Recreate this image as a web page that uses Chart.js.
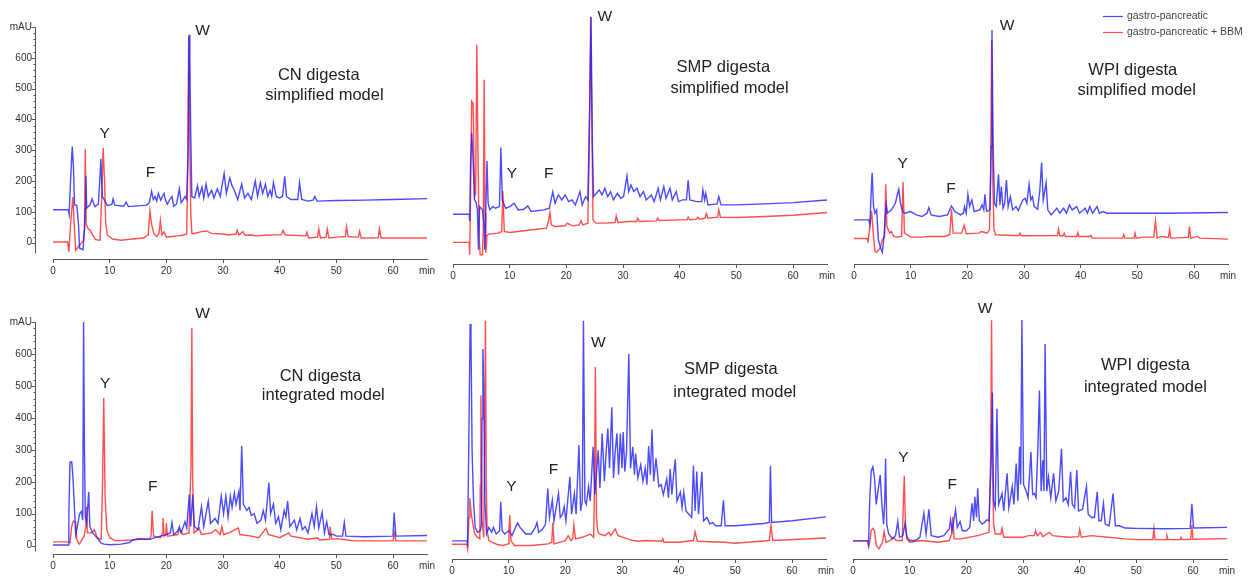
<!DOCTYPE html>
<html><head><meta charset="utf-8">
<script src="https://cdn.jsdelivr.net/npm/chart.js@4.4.1/dist/chart.umd.min.js"></script>
<style>
html,body{margin:0;padding:0;background:#fff;}
#wrap{position:relative;width:1258px;height:585px;overflow:hidden;background:#fff;}
.p{position:absolute;}
canvas{display:block;}
</style></head><body><div id="wrap"></div>
<script>
// ---- axis values ----
const xTickValues = [0, 10, 20, 30, 40, 50, 60];
const xEnd = 66;
const yLabelValues = [0, 100, 200, 300, 400, 500, 600];
const yTop = 700;
const seriesNames = ['gastro-pancreatic', 'gastro-pancreatic + BBM'];

// ---- traces: [time(min), mAU, time, mAU, ...] ----
const cnSimpBlue = [0,107, 2.7,107, 2.85,92, 3.1,200, 3.4,312, 3.6,250, 3.8,122, 4.2,122, 4.5,60, 4.7,-18, 5.3,-23, 5.55,40, 5.7,110, 5.8,217, 5.95,112, 6.5,122, 6.9,142, 7.4,117, 8.0,125, 8.25,200, 8.45,272, 8.7,150, 9.1,137, 9.6,120, 10.4,125, 10.6,142, 10.9,122, 12.5,118, 12.9,132, 13.3,117, 16.5,122, 17.0,130, 17.4,167, 17.7,140, 18.0,150, 18.3,135, 18.6,160, 19.0,138, 19.3,150, 19.6,160, 19.9,135, 20.2,125, 20.6,140, 21.0,150, 21.3,118, 21.8,125, 22.3,175, 22.6,130, 23.0,140, 23.3,150, 23.6,140, 23.85,300, 24.0,675, 24.15,600, 24.3,360, 24.5,150, 25.0,145, 25.5,185, 25.8,150, 26.3,180, 26.6,145, 27.0,190, 27.4,150, 28.0,170, 28.4,145, 29.0,175, 29.5,150, 30.2,225, 30.6,160, 31.2,210, 31.6,185, 32.0,170, 32.6,140, 33.3,190, 33.8,145, 34.4,160, 35.0,140, 35.7,200, 36.1,150, 36.6,195, 37.0,160, 37.5,190, 37.9,150, 38.3,170, 38.6,150, 38.9,195, 39.4,150, 40.0,145, 40.5,150, 40.9,215, 41.2,150, 42.0,140, 43.2,140, 43.5,195, 43.9,140, 45.0,135, 45.9,138, 46.2,150, 46.6,135, 50,137, 55,138, 60,140, 66,143];
const cnSimpRed = [0,2, 2.6,2, 2.8,-30, 3.1,60, 3.5,148, 3.75,60, 4.0,-25, 4.6,-10, 5.3,5, 5.55,40, 5.7,304, 5.85,60, 6.2,45, 6.6,40, 7.0,25, 7.5,10, 8.3,8, 8.6,150, 8.85,307, 9.1,200, 9.3,60, 9.6,25, 10.5,12, 12,8, 14,12, 16,15, 16.8,25, 17.1,102, 17.4,60, 17.8,30, 18.3,20, 18.7,30, 18.95,72, 19.2,25, 19.6,35, 20.0,18, 21,20, 22,22, 23,25, 23.6,28, 23.8,280, 23.95,670, 24.1,400, 24.3,100, 24.5,30, 25,30, 26,35, 27,38, 28,30, 30,28, 31,25, 32.3,28, 32.5,40, 32.8,25, 33.5,36, 33.9,24, 35,25, 36,22, 38,25, 40.3,26, 40.6,40, 41,25, 44.6,22, 44.8,34, 45.1,15, 46.7,18, 46.9,45, 47.2,15, 48.2,18, 48.4,44, 48.7,15, 50,18, 51.6,20, 51.8,52, 52.1,20, 53.9,18, 54.1,37, 54.4,15, 57.4,16, 57.6,45, 57.9,15, 62,15, 66,15];

const smpSimpBlue = [0,97, 2.85,97, 2.95,77, 3.1,250, 3.3,342, 3.5,280, 3.8,142, 4.1,130, 4.3,110, 4.5,-10, 4.7,120, 5.2,110, 5.5,60, 5.6,-10, 5.8,120, 6.0,257, 6.2,130, 6.5,110, 7.0,120, 7.5,115, 8.2,120, 8.45,298, 8.7,140, 9.3,115, 10.0,120, 10.8,130, 11.5,110, 12.5,112, 13.2,122, 13.8,105, 16,110, 17.0,115, 17.6,164, 18.0,130, 18.6,155, 19.2,140, 19.8,155, 20.4,135, 21.0,140, 21.6,125, 22.4,165, 22.8,125, 23.4,150, 23.8,140, 24.1,400, 24.35,692, 24.6,300, 24.8,150, 25.3,160, 25.8,170, 26.3,155, 26.8,175, 27.3,150, 27.8,165, 28.3,140, 29.0,160, 29.6,145, 30.1,150, 30.7,212, 31.0,165, 31.4,185, 31.9,165, 32.5,175, 33.0,150, 33.6,165, 34.1,140, 35.0,155, 35.5,135, 36.2,175, 36.6,140, 37.2,180, 37.6,145, 38.3,175, 38.7,140, 39.4,165, 39.8,135, 40.5,140, 41.2,140, 41.5,199, 41.8,140, 43,135, 43.9,135, 44.1,170, 44.4,140, 44.6,160, 45.0,125, 46.6,128, 46.9,150, 47.3,125, 50,125, 55,128, 60,132, 66,140];
const smpSimpRed = [0,12, 2.85,12, 2.95,-25, 3.1,150, 3.3,437, 3.55,430, 3.8,150, 4.0,160, 4.2,607, 4.4,300, 4.6,30, 4.8,-25, 5.2,-25, 5.35,60, 5.5,502, 5.65,100, 5.8,-20, 6.0,32, 6.3,37, 8.0,40, 8.6,45, 8.8,167, 9.05,45, 10,42, 14,50, 16.5,55, 16.9,80, 17.1,102, 17.35,65, 18,60, 19.8,62, 20.2,70, 21,62, 22.3,65, 22.6,77, 22.9,65, 23.8,70, 24.05,300, 24.3,690, 24.5,400, 24.7,80, 25.2,70, 27,70, 28.6,72, 28.8,92, 29.1,72, 31,75, 32.4,75, 32.6,85, 32.9,75, 35.9,77, 36.1,85, 36.4,78, 40,80, 41.3,80, 41.5,88, 41.8,80, 43.0,82, 43.2,88, 43.5,82, 44.5,85, 44.7,99, 45.0,85, 46.7,88, 46.9,110, 47.2,88, 50,87, 55,90, 60,94, 66,102];

const wpiSimpBlue = [0,80, 2.6,80, 2.8,65, 3.0,150, 3.2,222, 3.45,120, 3.7,100, 4.0,110, 4.3,20, 4.7,-5, 5.0,-18, 5.3,30, 5.55,100, 5.7,127, 5.9,100, 6.6,110, 7.3,130, 7.7,160, 7.9,172, 8.2,130, 8.6,105, 9,100, 10,105, 11,95, 12,90, 12.9,100, 13.2,117, 13.6,95, 15,90, 16.5,95, 17.2,122, 17.8,105, 18.8,95, 19.3,100, 19.5,120, 19.8,100, 20.1,157, 20.4,120, 20.8,140, 21.2,105, 22.2,110, 22.6,125, 22.9,110, 23.1,157, 23.4,105, 24.0,110, 24.2,300, 24.35,652, 24.55,300, 24.8,130, 25.1,120, 25.5,217, 25.75,125, 26.0,180, 26.3,115, 26.6,130, 26.9,200, 27.2,120, 27.6,150, 28.0,110, 28.6,120, 29.0,108, 29.4,125, 29.8,140, 30.2,145, 30.5,130, 30.9,187, 31.2,140, 31.5,150, 31.8,120, 32.4,112, 32.8,170, 33.1,252, 33.4,140, 33.9,192, 34.2,110, 34.8,95, 35.8,115, 36.3,100, 37.0,115, 37.5,100, 38.0,125, 38.5,110, 39.3,120, 39.8,100, 40.8,115, 41.2,100, 41.6,120, 42.1,100, 42.9,120, 43.3,100, 44,105, 44.6,100, 50,100, 55,100, 66,102];
const wpiSimpRed = [0,24, 2.3,24, 2.5,15, 2.8,60, 3.1,107, 3.4,40, 3.7,-15, 4.0,-18, 4.6,-5, 5.0,20, 5.4,30, 5.6,187, 5.8,60, 6.3,40, 6.6,45, 7.0,30, 7.6,28, 8.4,30, 8.65,194, 8.9,40, 10,28, 12,28, 13,30, 16,30, 16.9,35, 17.2,112, 17.5,40, 19.0,40, 19.45,64, 19.8,38, 22,40, 22.5,45, 23.5,40, 23.9,50, 24.1,200, 24.3,622, 24.5,200, 24.7,50, 25,35, 28,33, 29.1,33, 29.3,40, 29.5,32, 35.9,33, 36.1,52, 36.3,32, 36.9,32, 37.1,40, 37.3,30, 39.3,30, 39.5,42, 39.7,30, 41.6,30, 41.8,33, 42.0,25, 47.4,25, 47.6,35, 47.8,25, 49.4,25, 49.6,40, 49.8,25, 51,28, 52.9,28, 53.2,77, 53.5,25, 54.3,30, 55.5,27, 55.7,50, 55.9,25, 59.0,27, 59.2,60, 59.4,25, 60.6,30, 61,25, 66,22];

const cnIntBlue = [0,2, 2.7,2, 2.8,100, 3.0,262, 3.3,262, 3.5,220, 3.7,150, 4.0,35, 4.3,60, 4.7,100, 5.0,107, 5.25,80, 5.4,700, 5.55,300, 5.7,90, 5.95,70, 6.3,169, 6.5,60, 7.0,40, 7.5,30, 8.0,20, 8.5,8, 9,5, 10,3, 12,5, 13.5,10, 14,17, 15,20, 17,20, 19,30, 20,35, 20.7,40, 21.0,72, 21.3,35, 22.0,45, 22.3,60, 22.6,40, 23.3,75, 23.6,55, 24.05,160, 24.3,60, 24.65,160, 24.95,60, 25.6,50, 26.2,122, 26.6,60, 27.4,139, 27.8,70, 28.6,85, 29.1,70, 29.7,155, 30.1,100, 30.5,155, 30.9,90, 31.3,155, 31.6,120, 32.0,165, 32.3,130, 32.8,170, 33.0,110, 33.3,312, 33.6,130, 34.2,110, 34.6,120, 35.0,95, 35.5,100, 36.0,70, 36.7,80, 37.1,110, 37.5,80, 38.1,197, 38.4,100, 38.9,130, 39.3,70, 39.8,90, 40.2,50, 40.8,110, 41.1,90, 41.4,140, 41.8,60, 42.6,80, 43.0,50, 43.6,85, 44.0,50, 44.5,60, 45,40, 45.7,100, 46.1,60, 46.5,122, 46.9,55, 47.5,105, 47.9,40, 48.3,75, 48.7,35, 49.5,35, 50,30, 51.1,30, 51.4,72, 51.7,30, 55,28, 60,30, 60.2,104, 60.5,30, 66,32];
const cnIntRed = [0,12, 2.8,12, 3.0,10, 3.3,60, 3.6,77, 4.0,75, 4.2,20, 4.6,5, 5.0,15, 5.5,30, 5.8,60, 5.9,122, 6.05,40, 6.8,40, 7.3,50, 7.8,25, 8.5,20, 8.75,200, 8.95,462, 9.2,150, 9.5,50, 10,25, 11,15, 14,18, 15,22, 17,20, 17.3,30, 17.5,109, 17.75,30, 19,25, 19.3,40, 19.4,87, 19.6,30, 19.9,35, 20.0,70, 20.2,30, 22,35, 22.3,50, 23,35, 24,40, 24.35,250, 24.5,682, 24.65,200, 24.9,40, 25.8,55, 26.2,35, 28,40, 28.7,50, 29.5,35, 29.8,60, 30.1,35, 31,40, 32.7,55, 33,35, 35,30, 36.3,25, 37.6,54, 38,35, 40,25, 41.6,40, 42,30, 45,20, 46.7,25, 47,18, 48.8,20, 48.9,59, 49.2,20, 50.3,22, 52,18, 53,15, 60,15, 60.25,40, 60.5,15, 66,15];

const smpIntBlue = [0,29, 2.6,29, 2.75,20, 2.95,300, 3.2,688, 3.35,650, 3.55,300, 3.8,150, 4.1,70, 4.5,55, 5.0,60, 5.2,80, 5.3,400, 5.45,612, 5.6,500, 5.8,150, 6.1,50, 6.5,70, 7.0,55, 7.3,70, 7.8,50, 8.4,60, 8.6,148, 8.85,60, 9.3,50, 10,60, 10.6,45, 11.2,70, 11.6,83, 12.0,70, 12.5,60, 13,50, 14,50, 14.7,70, 15.0,85, 15.3,55, 16,65, 16.5,80, 16.9,188, 17.2,100, 17.7,153, 18.0,90, 18.8,173, 19.1,100, 19.5,110, 19.8,133, 20.1,90, 20.8,224, 21.1,110, 21.6,173, 21.9,110, 22.4,320, 22.7,120, 23.0,150, 23.2,698, 23.45,150, 23.7,140, 24.1,194, 24.4,150, 24.9,315, 25.2,170, 25.8,304, 26.1,190, 26.5,355, 26.9,210, 27.2,300, 27.5,370, 27.8,250, 28.2,435, 28.5,220, 28.8,300, 29.1,355, 29.4,230, 29.7,355, 30.0,250, 30.2,360, 30.5,240, 30.8,300, 31.2,597, 31.5,250, 31.9,315, 32.2,230, 32.4,294, 32.8,220, 33.3,260, 33.7,210, 34.1,250, 34.4,200, 34.7,317, 35.0,230, 35.3,367, 35.6,210, 36.0,280, 36.5,194, 36.9,200, 37.3,170, 37.9,217, 38.2,160, 38.5,247, 38.8,170, 39.1,230, 39.4,277, 39.7,150, 40.3,177, 40.6,130, 40.9,177, 41.3,120, 41.8,110, 42.3,100, 42.6,257, 42.9,120, 43.2,240, 43.5,110, 44.1,239, 44.4,90, 45,100, 45.5,80, 46,85, 46.5,75, 47.5,75, 47.9,152, 48.2,75, 50,75, 55,82, 56.0,85, 56.2,257, 56.4,85, 60,90, 66,102];
const smpIntRed = [0,19, 2.6,19, 2.75,5, 3.0,100, 3.15,159, 3.4,110, 3.6,90, 4.0,50, 4.5,40, 4.9,35, 5.0,200, 5.1,471, 5.25,100, 5.6,40, 5.75,300, 5.9,698, 6.05,200, 6.2,60, 6.5,30, 7,25, 8,18, 9,15, 9.9,20, 10.05,60, 10.2,107, 10.4,30, 11,15, 14,15, 17,20, 17.6,25, 17.8,85, 18.0,20, 20,30, 20.5,45, 21,30, 21.3,35, 21.5,77, 21.8,35, 23,40, 24.4,50, 25,40, 25.15,200, 25.3,557, 25.5,100, 25.7,60, 26,50, 27,45, 27.7,55, 28,45, 28.8,65, 29.3,45, 31,35, 32,30, 33,28, 34,30, 37.0,28, 37.2,35, 37.4,25, 40,25, 42.6,30, 42.9,57, 43.3,28, 48,25, 50,22, 56.0,30, 56.3,77, 56.6,30, 66,38];

const wpiIntBlue = [0,29, 2.6,29, 2.75,20, 2.95,150, 3.2,240, 3.5,254, 3.8,220, 4.1,140, 4.4,180, 4.8,229, 5.1,140, 5.4,80, 5.6,150, 5.75,279, 5.95,80, 6.3,50, 7,35, 7.5,45, 7.9,88, 8.2,40, 8.8,45, 9.2,83, 9.5,40, 10,30, 11,30, 11.8,40, 12.5,113, 12.9,50, 13.4,125, 13.8,45, 15,40, 16,45, 16.5,55, 17.0,65, 17.2,93, 17.5,60, 18.1,123, 18.4,70, 18.9,88, 19.3,60, 20,60, 20.6,70, 21.0,143, 21.3,90, 21.5,163, 21.8,100, 22.0,189, 22.3,90, 22.8,80, 23.2,85, 23.6,93, 24.0,90, 24.4,274, 24.6,480, 24.8,150, 25.1,130, 25.4,430, 25.7,140, 26.3,173, 26.6,120, 27.2,234, 27.5,130, 28.1,194, 28.4,140, 28.8,264, 29.1,150, 29.4,315, 29.6,200, 29.8,700, 30.1,200, 30.5,183, 30.9,160, 31.4,299, 31.7,170, 32.0,173, 32.3,160, 32.6,299, 32.9,486, 33.2,180, 33.5,274, 33.7,180, 33.9,627, 34.2,180, 34.5,224, 34.9,160, 35.4,234, 35.8,150, 36.3,180, 36.8,309, 37.1,150, 37.6,160, 38.0,140, 38.4,239, 38.7,140, 39.1,130, 39.5,244, 39.8,120, 40.5,125, 41.2,194, 41.5,110, 42.1,100, 42.6,100, 43.1,178, 43.4,90, 43.8,90, 44.2,143, 44.5,80, 45.2,75, 45.9,173, 46.3,75, 47,75, 48,68, 50,67, 55,66, 59.5,67, 59.8,142, 60.1,68, 66,70];
const wpiIntRed = [0,29, 2.6,29, 2.75,12, 3.0,30, 3.2,60, 3.5,67, 3.8,60, 4.1,15, 4.6,5, 5.2,25, 5.5,57, 5.8,25, 6.5,30, 7.2,40, 7.6,30, 8.7,30, 8.9,150, 9.05,227, 9.25,80, 9.5,35, 10,25, 12,30, 15,25, 17,30, 17.4,50, 17.6,102, 17.85,35, 19,35, 22,45, 24,55, 24.3,300, 24.45,699, 24.6,300, 24.8,80, 25.1,50, 26.1,50, 26.3,67, 26.6,40, 30,40, 31,45, 32.0,45, 32.2,60, 32.5,45, 33.1,55, 33.5,42, 34.7,55, 35.2,45, 38,40, 39.8,42, 40.0,64, 40.3,40, 42,45, 45,40, 48,35, 50,33, 52.9,33, 53.1,67, 53.3,33, 55.3,33, 55.4,45, 55.6,33, 57.8,33, 57.9,40, 58.1,33, 59.6,34, 59.8,77, 60.0,34, 66,36];

// ---- helpers ----
function toPts(a) { const r = []; for (let i = 0; i < a.length; i += 2) r.push({ x: a[i], y: a[i + 1] }); return r; }
const FONT = '"Liberation Sans", Arial, sans-serif';
Chart.defaults.font.family = FONT;
const BLUE = 'rgba(30,30,255,0.8)';
const RED = 'rgba(255,30,30,0.78)';

const yAxisPlugin = {
  id: 'yAxisLine',
  afterDraw(chart, args, opts) {
    if (!opts || !opts.show) return;
    const ys = chart.scales.y, ctx = chart.ctx;
    const x0 = Math.round(chart.chartArea.left - 18) + 0.5;
    ctx.save();
    ctx.strokeStyle = '#555'; ctx.lineWidth = 1;
    ctx.beginPath();
    ctx.moveTo(x0, ys.getPixelForValue(yTop));
    ctx.lineTo(x0, ys.getPixelForValue(opts.bottom));
    for (let v = 0; v <= yTop; v += 20) {
      const py = Math.round(ys.getPixelForValue(v)) + 0.5;
      const len = (v % 100 === 0) ? 4 : 2;
      ctx.moveTo(x0 - len, py); ctx.lineTo(x0, py);
    }
    ctx.stroke();
    ctx.restore();
  }
};

const notesPlugin = {
  id: 'notes',
  afterDatasetsDraw(chart, args, opts) {
    const ctx = chart.ctx, xs = chart.scales.x, ys = chart.scales.y;
    ctx.save();
    ctx.fillStyle = '#222'; ctx.textAlign = 'center'; ctx.textBaseline = 'middle';
    (opts.items || []).forEach(n => {
      ctx.font = n.size + 'px ' + FONT;
      ctx.fillText(n.text, xs.getPixelForValue(n.x), ys.getPixelForValue(n.y));
    });
    if (opts.legend) {
      const ca = chart.chartArea;
      ctx.font = '10.5px ' + FONT;
      ctx.textAlign = 'left';
      chart.data.datasets.forEach((d, i) => {
        const yy = Math.round(ca.top + 2 + i * 16) + 0.5;
        ctx.strokeStyle = d.borderColor; ctx.lineWidth = 1.2;
        ctx.beginPath(); ctx.moveTo(ca.right - 125, yy); ctx.lineTo(ca.right - 105, yy); ctx.stroke();
        ctx.fillStyle = '#444';
        ctx.fillText(d.label, ca.right - 101, yy);
      });
    }
    ctx.restore();
  }
};

const panels = [
  { left: 0,   top: 0,   h: 286, padTop: 14, ymin: -53, yAxis: true,  axisBottom: -35, blue: cnSimpBlue,  red: cnSimpRed,  legend: false,
    notes: [['W',26.4,687,15.5],['Y',9.1,354,15.5],['F',17.2,228,15.5],['CN digesta',46.9,542,16.5],['simplified model',47.9,479,16.5]] },
  { left: 400, top: 0,   h: 286, padTop: 14, ymin: -53, yAxis: false, axisBottom: -35, blue: smpSimpBlue, red: smpSimpRed, legend: false,
    notes: [['W',26.8,693,15.5],['Y',10.4,218,15.5],['F',16.9,218,15.5],['SMP digesta',47.7,539,16.5],['simplified model',48.8,476,16.5]] },
  { left: 801, top: 0,   h: 286, padTop: 14, ymin: -53, yAxis: false, axisBottom: -35, blue: wpiSimpBlue, red: wpiSimpRed, legend: true,
    notes: [['W',27.0,666,15.5],['Y',8.6,249,15.5],['F',17.1,173,15.5],['WPI digesta',49.2,530,16.5],['simplified model',49.9,470,16.5]] },
  { left: 0,   top: 295, h: 286, padTop: 25, ymin: -26, yAxis: true,  axisBottom: -18, blue: cnIntBlue,   red: cnIntRed,   legend: false,
    notes: [['W',26.4,725,15.5],['Y',9.2,507,15.5],['F',17.6,184,15.5],['CN digesta',47.2,531,16.5],['integrated model',47.7,471,16.5]] },
  { left: 399, top: 295, h: 286, padTop: 25, ymin: -26, yAxis: false, axisBottom: -18, blue: smpIntBlue,  red: smpIntRed,  legend: false,
    notes: [['W',25.8,631,15.5],['Y',10.5,193,15.5],['F',17.9,244,15.5],['SMP digesta',49.2,550,16.5],['integrated model',49.9,480,16.5]] },
  { left: 800, top: 295, h: 286, padTop: 25, ymin: -26, yAxis: false, axisBottom: -18, blue: wpiIntBlue,  red: wpiIntRed,  legend: false,
    notes: [['W',23.3,734,15.5],['Y',8.9,283,15.5],['F',17.5,199,15.5],['WPI digesta',51.6,561,16.5],['integrated model',51.6,495,16.5]] }
];

const wrap = document.getElementById('wrap');
panels.forEach(p => {
  const div = document.createElement('div');
  div.className = 'p';
  div.style.left = p.left + 'px'; div.style.top = p.top + 'px';
  div.style.width = '457px'; div.style.height = p.h + 'px';
  const cv = document.createElement('canvas');
  cv.width = 457; cv.height = p.h;
  cv.style.width = '457px'; cv.style.height = p.h + 'px';
  div.appendChild(cv); wrap.appendChild(div);

  new Chart(cv, {
    type: 'line',
    data: {
      datasets: [
        { label: seriesNames[0], data: toPts(p.blue), borderColor: BLUE, borderWidth: 1.4, pointRadius: 0, tension: 0, fill: false },
        { label: seriesNames[1], data: toPts(p.red),  borderColor: RED,  borderWidth: 1.4, pointRadius: 0, tension: 0, fill: false }
      ]
    },
    options: {
      responsive: false, animation: false, events: [],
      layout: { padding: { top: p.padTop, right: 30, left: 0, bottom: 0 } },
      scales: {
        x: {
          type: 'linear', min: 0, max: xEnd,
          afterBuildTicks: s => { s.ticks = xTickValues.concat([xEnd]).map(v => ({ value: v })); },
          afterFit: s => { s.height = 22; },
          border: { display: true, color: '#555', width: 1 },
          grid: { drawOnChartArea: false, drawTicks: true, tickLength: 4,
                  color: c => (c.tick && c.tick.value === xEnd) ? 'rgba(0,0,0,0)' : '#555' },
          ticks: { autoSkip: false, maxRotation: 0, padding: 2, color: '#333', font: { size: 10 },
                   callback: v => v === xEnd ? 'min' : String(v) }
        },
        y: {
          type: 'linear', min: p.ymin, max: yTop,
          afterBuildTicks: s => { s.ticks = yLabelValues.concat([yTop]).map(v => ({ value: v })); },
          afterFit: s => { s.width = 53; },
          border: { display: false },
          grid: { display: false, drawTicks: false },
          ticks: { display: p.yAxis, padding: 21, color: '#333', font: { size: 10 },
                   callback: v => v === yTop ? 'mAU' : String(v) }
        }
      },
      plugins: {
        legend: { display: false },
        tooltip: { enabled: false },
        title: { display: false },
        yAxisLine: { show: p.yAxis, bottom: p.axisBottom },
        notes: { legend: p.legend, items: p.notes.map(n => ({ text: n[0], x: n[1], y: n[2], size: n[3] })) }
      }
    },
    plugins: [yAxisPlugin, notesPlugin]
  });
});
</script>
</body></html>
